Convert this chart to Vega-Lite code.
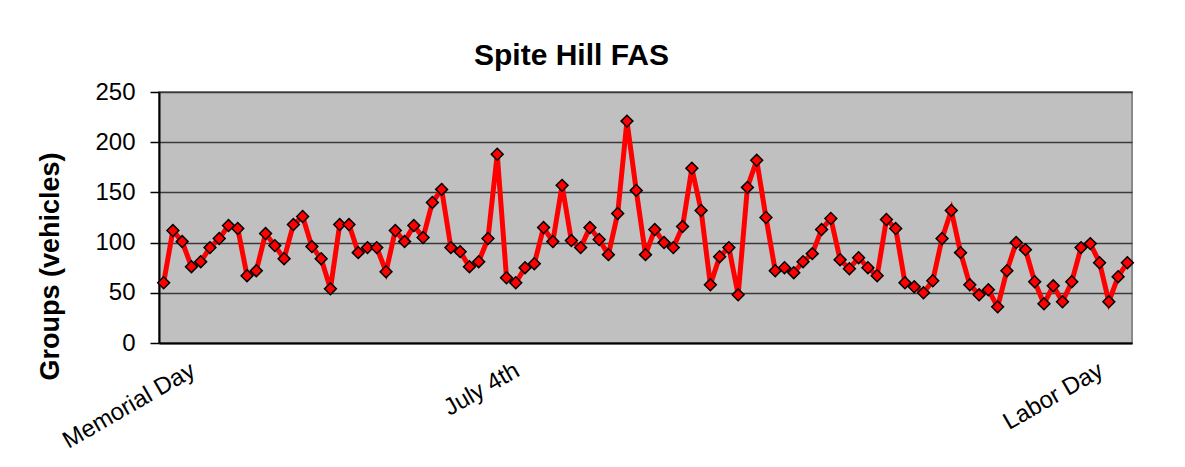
{
  "$schema": "https://vega.github.io/schema/vega-lite/v6.json",
  "autosize": "none",
  "width": 973,
  "height": 251,
  "padding": {"left": 159, "top": 92, "right": 53, "bottom": 124},
  "background": "white",
  "title": {
    "text": "Spite Hill FAS",
    "font": "Liberation Sans",
    "fontSize": 30,
    "fontWeight": "bold",
    "color": "black",
    "anchor": "middle",
    "frame": "group",
    "dx": -74,
    "dy": 31,
    "baseline": "alphabetic",
    "offset": 16
  },
  "data": {
    "values": [
      {"day": 1, "groups": 60}, {"day": 2, "groups": 112}, {"day": 3, "groups": 101}, {"day": 4, "groups": 76}, {"day": 5, "groups": 81},
      {"day": 6, "groups": 95}, {"day": 7, "groups": 104}, {"day": 8, "groups": 117}, {"day": 9, "groups": 114}, {"day": 10, "groups": 67},
      {"day": 11, "groups": 72}, {"day": 12, "groups": 109}, {"day": 13, "groups": 97}, {"day": 14, "groups": 84}, {"day": 15, "groups": 118},
      {"day": 16, "groups": 126}, {"day": 17, "groups": 96}, {"day": 18, "groups": 84}, {"day": 19, "groups": 54}, {"day": 20, "groups": 118},
      {"day": 21, "groups": 118}, {"day": 22, "groups": 90}, {"day": 23, "groups": 95}, {"day": 24, "groups": 95}, {"day": 25, "groups": 71},
      {"day": 26, "groups": 112}, {"day": 27, "groups": 101}, {"day": 28, "groups": 117}, {"day": 29, "groups": 105}, {"day": 30, "groups": 140},
      {"day": 31, "groups": 153}, {"day": 32, "groups": 95}, {"day": 33, "groups": 91}, {"day": 34, "groups": 76}, {"day": 35, "groups": 81},
      {"day": 36, "groups": 104}, {"day": 37, "groups": 188}, {"day": 38, "groups": 65}, {"day": 39, "groups": 60}, {"day": 40, "groups": 75},
      {"day": 41, "groups": 79}, {"day": 42, "groups": 115}, {"day": 43, "groups": 101}, {"day": 44, "groups": 157}, {"day": 45, "groups": 102},
      {"day": 46, "groups": 95}, {"day": 47, "groups": 115}, {"day": 48, "groups": 103}, {"day": 49, "groups": 88}, {"day": 50, "groups": 129},
      {"day": 51, "groups": 221}, {"day": 52, "groups": 152}, {"day": 53, "groups": 88}, {"day": 54, "groups": 113}, {"day": 55, "groups": 100},
      {"day": 56, "groups": 95}, {"day": 57, "groups": 116}, {"day": 58, "groups": 174}, {"day": 59, "groups": 132}, {"day": 60, "groups": 58},
      {"day": 61, "groups": 86}, {"day": 62, "groups": 95}, {"day": 63, "groups": 48}, {"day": 64, "groups": 155}, {"day": 65, "groups": 182},
      {"day": 66, "groups": 125}, {"day": 67, "groups": 72}, {"day": 68, "groups": 75}, {"day": 69, "groups": 70}, {"day": 70, "groups": 81},
      {"day": 71, "groups": 89}, {"day": 72, "groups": 113}, {"day": 73, "groups": 124}, {"day": 74, "groups": 83}, {"day": 75, "groups": 74},
      {"day": 76, "groups": 85}, {"day": 77, "groups": 75}, {"day": 78, "groups": 67}, {"day": 79, "groups": 123}, {"day": 80, "groups": 114},
      {"day": 81, "groups": 60}, {"day": 82, "groups": 56}, {"day": 83, "groups": 50}, {"day": 84, "groups": 62}, {"day": 85, "groups": 104},
      {"day": 86, "groups": 132}, {"day": 87, "groups": 90}, {"day": 88, "groups": 58}, {"day": 89, "groups": 48}, {"day": 90, "groups": 53},
      {"day": 91, "groups": 36}, {"day": 92, "groups": 72}, {"day": 93, "groups": 100}, {"day": 94, "groups": 93}, {"day": 95, "groups": 61},
      {"day": 96, "groups": 39}, {"day": 97, "groups": 57}, {"day": 98, "groups": 41}, {"day": 99, "groups": 61}, {"day": 100, "groups": 95},
      {"day": 101, "groups": 99}, {"day": 102, "groups": 80}, {"day": 103, "groups": 41}, {"day": 104, "groups": 66}, {"day": 105, "groups": 80}
    ]
  },
  "encoding": {
    "x": {
      "field": "day",
      "type": "quantitative",
      "scale": {"domain": [0.5, 105.5], "nice": false, "zero": false},
      "axis": {
        "title": null,
        "values": [3.5, 38.5, 101.5],
        "labelExpr": "datum.value < 10 ? 'Memorial Day' : datum.value < 50 ? 'July 4th' : 'Labor Day'",
        "grid": false,
        "ticks": false,
        "domain": true,
        "domainColor": "#000000",
        "domainWidth": 2,
        "labelAngle": -30,
        "labelAlign": "right",
        "labelBaseline": "top",
        "labelPadding": 15,
        "labelFont": "Liberation Sans",
        "labelFontSize": 24,
        "labelColor": "black"
      }
    },
    "y": {
      "field": "groups",
      "type": "quantitative",
      "scale": {"domain": [0, 250], "nice": false},
      "axis": {
        "title": "Groups (vehicles)",
        "titleFont": "Liberation Sans",
        "titleFontSize": 27,
        "titleFontWeight": "bold",
        "titleColor": "black",
        "titleAngle": -90,
        "titleAlign": "center",
        "titleBaseline": "alphabetic",
        "titleX": -101,
        "titleY": 174,
        "values": [0, 50, 100, 150, 200, 250],
        "grid": true,
        "gridColor": "#3a3a3a",
        "gridWidth": 1.5,
        "gridOpacity": 1,
        "ticks": true,
        "tickSize": 9,
        "tickColor": "#000000",
        "tickWidth": 1.5,
        "domain": true,
        "domainColor": "#000000",
        "domainWidth": 2,
        "labelFont": "Liberation Sans",
        "labelFontSize": 24,
        "labelColor": "black",
        "labelPadding": 15
      }
    }
  },
  "layer": [
    {
      "mark": {"type": "line", "color": "#ff0000", "strokeWidth": 5}
    },
    {
      "mark": {"type": "point", "shape": "diamond", "size": 140, "filled": true, "fill": "#ff0000", "stroke": "#000000", "strokeWidth": 1.5, "opacity": 1}
    }
  ],
  "config": {
    "view": {"fill": "#c0c0c0", "stroke": "#8a8a8a", "strokeWidth": 2}
  }
}
